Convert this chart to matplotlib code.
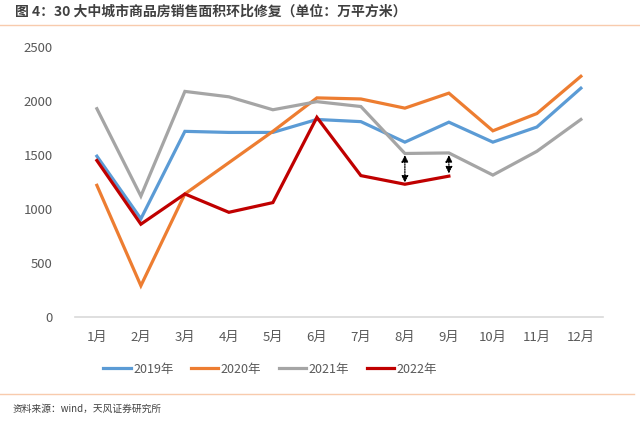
import matplotlib
matplotlib.use('Agg')
import matplotlib.pyplot as plt
import numpy as np

plt.rcParams['font.family'] = ['Noto Sans CJK SC', 'DejaVu Sans']

months = ['1月', '2月', '3月', '4月', '5月', '6月', '7月', '8月', '9月', '10月', '11月', '12月']
y2019 = [1490, 910, 1720, 1710, 1710, 1830, 1810, 1620, 1805, 1620, 1760, 2120]
y2020 = [1220, 290, 1140, 1430, 1720, 2030, 2020, 1935, 2074, 1725, 1885, 2230]
y2021 = [1930, 1120, 2090, 2040, 1920, 1995, 1950, 1515, 1520, 1315, 1535, 1830]
y2022 = [1450, 860, 1140, 970, 1060, 1850, 1310, 1230, 1305]

series = [('2019年', y2019, '#5B9BD5'),
          ('2020年', y2020, '#ED7D31'),
          ('2021年', y2021, '#A5A5A5'),
          ('2022年', y2022, '#C00000')]

fig = plt.figure(figsize=(6.4, 4.21), dpi=100)
ax = fig.add_axes([0.117, 0.247, 0.825, 0.641])

x = np.arange(len(months))
for name, vals, color in series:
    ax.plot(x[:len(vals)], vals, color=color, lw=2.3, label=name, solid_joinstyle='miter')

# dotted double arrows showing the gap to 2021
for i, (top, bot) in zip([7, 8], [(1500, 1245), (1500, 1330)]):
    ax.annotate('', xy=(i, bot), xytext=(i, top),
                arrowprops=dict(arrowstyle='<|-|>', linestyle=(0, (1, 1)), color='black',
                                lw=0.9, mutation_scale=10, shrinkA=0, shrinkB=0))

ax.set_xlim(-0.5, 11.5)
ax.set_ylim(0, 2500)
ax.set_yticks(range(0, 2501, 500))
ax.set_xticks(x)
ax.set_xticklabels(months)
for s in ['top', 'right', 'left']:
    ax.spines[s].set_visible(False)
ax.spines['bottom'].set_color('#D9D9D9')
ax.spines['bottom'].set_linewidth(1.2)
ax.tick_params(axis='both', length=0, colors='#595959', labelsize=9.5)
ax.tick_params(axis='x', pad=10)
ax.tick_params(axis='y', pad=16)

ax.legend(loc='center left', bbox_to_anchor=(103 / 640, 52 / 421), bbox_transform=fig.transFigure,
          ncol=4, frameon=False, fontsize=9, handlelength=2.2, columnspacing=1.4,
          handletextpad=0.2, borderpad=0, borderaxespad=0, labelcolor='#595959')

fig.text(0.023, 0.972, '图 4：30 大中城市商品房销售面积环比修复（单位：万平方米）',
         fontsize=10, fontweight='bold', color='#404040', va='center')
fig.add_artist(plt.Line2D([0.0, 1.0], [0.94, 0.94], color='#F8CBAD', lw=1.0))
fig.add_artist(plt.Line2D([0.0, 0.99], [0.064, 0.064], color='#F8CBAD', lw=1.0))
fig.text(0.02, 0.028, '资料来源：wind，天风证券研究所', fontsize=7, color='#404040', va='center')

fig.savefig('out.png', dpi=100)
